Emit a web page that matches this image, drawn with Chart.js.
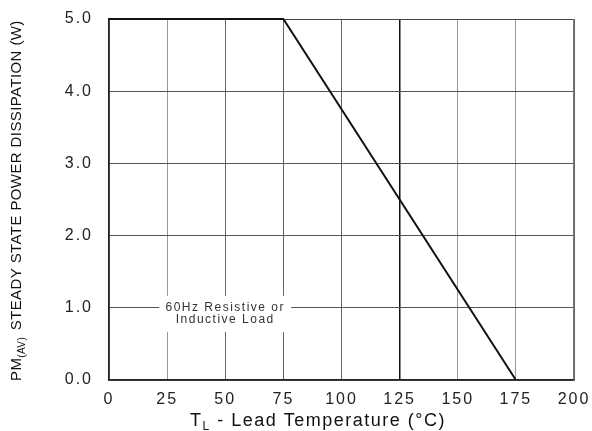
<!DOCTYPE html>
<html>
<head>
<meta charset="utf-8">
<script src="https://cdn.jsdelivr.net/npm/chart.js@4/dist/chart.umd.min.js"></script>
<style>
  html, body { margin: 0; padding: 0; background: #fff; }
  #wrap { width: 592px; height: 431px; }
</style>
</head>
<body>
<div id="wrap"><canvas id="deratingChart"></canvas></div>
<script>
// 定格曲線データ
var leadTemp = [0, 75, 175];
var powerW = [5.0, 5.0, 0.0];
var xTicks = [0, 25, 50, 75, 100, 125, 150, 175, 200];
var yTicks = [0, 1, 2, 3, 4, 5];
var noteLines = ['60Hz Resistive or', 'Inductive Load'];

var FONT = '"Liberation Sans", Arial, sans-serif';

// 目盛り文字を横に広げる(元図の字幅に合わせる)
var spacingPlugin = {
    id: 'spacing',
    beforeLayout: function (chart) { chart.ctx.letterSpacing = '2px'; },
    beforeDraw: function (chart) { chart.ctx.letterSpacing = '2px'; }
};

// 外枠(上・右)
var framePlugin = {
    id: 'frame',
    beforeDatasetsDraw: function (chart) {
        var a = chart.chartArea, ctx = chart.ctx;
        ctx.save();
        ctx.lineWidth = 1;
        ctx.strokeStyle = '#444';
        ctx.beginPath();
        ctx.moveTo(a.left, a.top + 0.5);
        ctx.lineTo(a.right, a.top + 0.5);
        ctx.stroke();
        ctx.strokeStyle = '#777';
        ctx.beginPath();
        ctx.moveTo(a.right - 0.5, a.top);
        ctx.lineTo(a.right - 0.5, a.bottom);
        ctx.stroke();
        ctx.restore();
    }
};

// 軸タイトル・注記(下付き文字あり)
var labelPlugin = {
    id: 'labels',
    afterDatasetsDraw: function (chart) {
        var ctx = chart.ctx;
        var xs = chart.scales.x, ys = chart.scales.y;
        ctx.save();
        // 注記ボックス
        var cx = xs.getPixelForValue(50);
        var cy = ys.getPixelForValue(0.93);
        ctx.fillStyle = '#fff';
        ctx.fillRect(cx - 66, cy - 17, 132, 36);
        ctx.fillStyle = '#333';
        ctx.letterSpacing = '1.5px';
        ctx.font = '12px ' + FONT;
        ctx.textAlign = 'center';
        ctx.textBaseline = 'middle';
        ctx.fillText(noteLines[0], cx, cy - 5);
        ctx.fillText(noteLines[1], cx, cy + 7);

        // X軸タイトル
        ctx.fillStyle = '#111';
        ctx.textAlign = 'left';
        ctx.textBaseline = 'alphabetic';
        var x0 = 190, y0 = 426;
        ctx.font = '18px ' + FONT;
        ctx.fillText('T', x0, y0);
        var w = ctx.measureText('T').width;
        ctx.font = '12px ' + FONT;
        ctx.fillText('L', x0 + w, y0 + 4);
        var w2 = ctx.measureText('L').width;
        ctx.font = '18px ' + FONT;
        ctx.fillText(' - Lead Temperature (°C)', x0 + w + w2, y0);

        // Y軸タイトル
        ctx.letterSpacing = '0.4px';
        ctx.translate(21, 381);
        ctx.rotate(-Math.PI / 2);
        ctx.font = '15px ' + FONT;
        ctx.fillText('PM', 0, 0);
        var a = ctx.measureText('PM').width;
        ctx.font = '10px ' + FONT;
        ctx.fillText('(AV)', a, 4);
        var b = ctx.measureText('(AV)').width;
        ctx.font = '15px ' + FONT;
        ctx.fillText(' STEADY STATE POWER DISSIPATION (W)', a + b + 2, 0);
        ctx.restore();
    }
};

new Chart(document.getElementById('deratingChart'), {
    type: 'scatter',
    data: {
        datasets: [{
            data: leadTemp.map(function (t, i) { return { x: t, y: powerW[i] }; }),
            showLine: true,
            borderColor: '#111',
            borderWidth: 2,
            pointRadius: 0,
            tension: 0,
            clip: false
        }]
    },
    options: {
        responsive: true,
        maintainAspectRatio: false,
        animation: false,
        layout: { padding: { left: 0, top: 19, right: 18, bottom: 0 } },
        plugins: { legend: { display: false }, tooltip: { enabled: false } },
        scales: {
            x: {
                type: 'linear',
                min: 0, max: 200,
                afterBuildTicks: function (s) { s.ticks = xTicks.map(function (v) { return { value: v }; }); },
                afterFit: function (s) { s.height = 51; s.paddingLeft = 0; s.paddingRight = 0; },
                grid: {
                    drawTicks: false,
                    color: function (c) {
                        var v = c.tick && c.tick.value;
                        if (v === 125) return '#111';
                        if (v === 25 || v === 150 || v === 175) return '#999';
                        return '#666';
                    },
                    lineWidth: function (c) { return c.tick && c.tick.value === 125 ? 1.5 : 1; }
                },
                border: { color: '#222', width: 1.5 },
                ticks: { color: '#222', padding: 10, font: { family: FONT, size: 16 } }
            },
            y: {
                min: 0, max: 5,
                afterBuildTicks: function (s) { s.ticks = yTicks.map(function (v) { return { value: v }; }); },
                afterFit: function (s) { s.width = 109; s.paddingTop = 0; s.paddingBottom = 0; },
                grid: {
                    drawTicks: false,
                    color: '#555'
                },
                border: { color: '#222', width: 1.5 },
                ticks: {
                    color: '#222', padding: 16,
                    font: { family: FONT, size: 16 },
                    callback: function (v) { return v.toFixed(1); }
                }
            }
        }
    },
    plugins: [spacingPlugin, framePlugin, labelPlugin]
});
</script>
</body>
</html>
